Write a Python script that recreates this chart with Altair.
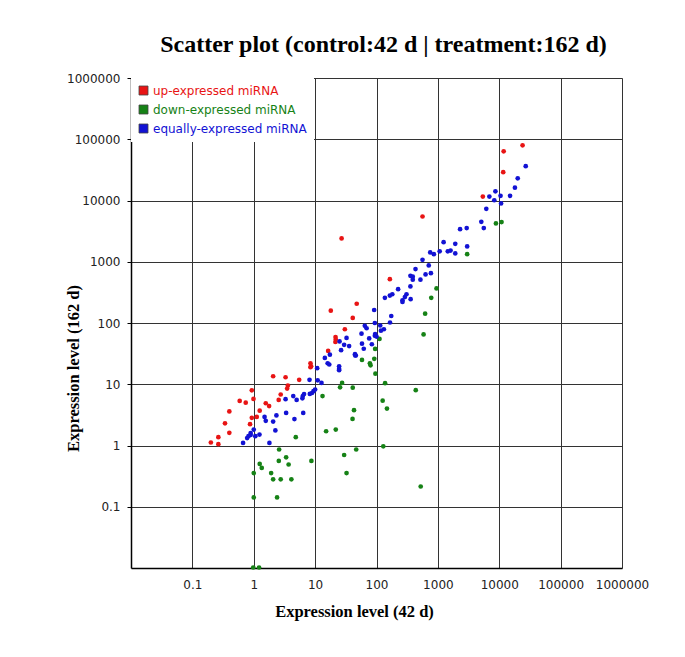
import altair as alt
import pandas as pd

categories = ["up-expressed miRNA", "down-expressed miRNA", "equally-expressed miRNA"]
colors = ["#e81414", "#168216", "#1212d4"]

up_x = [47.6, 18, 41, 30.5, 21.5, 21.7, 21.4, 16.3, 8.4, 8.6, 8.4, 2.07, 3.3, 5.5, 3.6, 3.5,
        2.75, 2.55, 0.93, 0.99, 0.59, 0.74, 1.57, 1.78, 0.40, 1.25, 0.93, 1.12, 0.34, 0.87,
        0.40, 0.265, 0.20, 0.265, 27, 24000, 11800, 11600, 5400, 562, 165]
up_y = [206, 159, 121, 79, 59, 54, 49, 35, 22, 19.6, 19, 13.5, 13, 11.8, 9.5, 8.5,
        6.8, 5.55, 7.96, 5.76, 5.35, 5.0, 4.9, 4.4, 3.6, 3.7, 2.83, 2.93, 2.3, 2.23,
        1.61, 1.37, 1.12, 1.05, 2400, 79500, 63500, 29000, 11600, 5480, 520]

down_x = [112, 95, 58, 78, 80, 92, 96, 27.5, 25.5, 41, 13.2, 43, 40.7, 21.7, 15.1, 4.84,
          2.59, 46.7, 29.7, 2.56, 3.37, 3.7, 8.7, 1.25, 1.35, 1.0, 1.92, 32.5, 2.07, 2.75,
          4.1, 1.0, 2.4, 0.98, 1.22, 8830, 10900, 3000, 950, 780, 620, 585, 138, 436, 126,
          148, 129, 525]
down_y = [55, 37.7, 25, 22, 20.4, 26, 14.9, 10.5, 8.9, 8.8, 6.4, 3.77, 2.72, 1.82, 1.71, 1.37,
          0.86, 0.86, 0.70, 0.56, 0.64, 0.49, 0.56, 0.50, 0.43, 0.354, 0.354, 0.354, 0.28, 0.28,
          0.28, 0.142, 0.142, 0.0102, 0.0102, 4220, 4450, 1330, 367, 258, 142, 65, 10.4, 8.0, 5.4,
          4.0, 0.97, 0.214]

eq_x = [91.6, 94, 64.5, 69, 57, 76, 94, 58, 84, 62, 25, 32.5, 29.7, 35.8, 26.5, 44.6, 46, 45,
        14.4, 17.4, 16, 17, 24.6, 24.6, 24.6, 10.8, 8.1, 11, 12.7, 10, 9.4, 8.9, 8.2, 6.6,
        6.3, 6.2, 5.0, 4.4, 3.3, 2.34, 3.37, 6.4, 4.6, 1.5, 1.57, 2.07, 2.25, 1.0, 0.89,
        0.89, 0.78, 0.82, 1.06, 1.24, 0.67, 1.8,
        27000, 20000, 18000, 8660, 6900, 8300, 10500, 15000, 10700, 6150, 5100, 5600, 2300,
        2950, 1240, 1920, 3000, 1450, 1610, 1920, 1070, 750, 860, 562, 710, 432, 770, 630,
        357, 390, 390, 520, 357, 225, 308, 290, 265, 265, 360, 137, 165, 181, 174, 166, 115,
        132, 118, 95, 100]
eq_y = [163, 100, 90, 82, 67, 56, 62, 46, 45, 38, 50, 57, 44, 42, 36, 31, 29.5, 29.5,
        26.9, 30.4, 22, 21, 19.6, 17.8, 17, 18.3, 11.8, 11.6, 10.5, 8.2, 7.7, 7.2, 6.95, 6.9,
        6.4, 5.9, 5.55, 6.4, 5.7, 3.1, 3.4, 3.4, 2.7, 2.93, 2.53, 2.46, 1.76, 1.82, 1.6,
        1.49, 1.32, 1.42, 1.42, 1.51, 1.1, 1.1,
        36300, 23000, 16200, 14100, 11600, 10100, 11900, 11900, 8950, 7300, 4480, 3550, 3400,
        3550, 2090, 1960, 1780, 1480, 1520, 1370, 1480, 1420, 1330, 1075, 870, 760, 650, 620,
        590, 570, 510, 510, 395, 357, 295, 265, 235, 220, 245, 258, 280, 295, 130, 102, 91,
        79, 75, 66, 60]

tick_values = [0.1, 1, 10, 100, 1000, 10000, 100000, 1000000]

rows = []
for cat, xs, ys in zip(categories, [up_x, down_x, eq_x], [up_y, down_y, eq_y]):
    for xv, yv in zip(xs, ys):
        rows.append({"control": xv, "treatment": yv, "category": cat})
df = pd.DataFrame(rows)

label_color_expr = (
    f"datum.value == '{categories[0]}' ? '{colors[0]}' : "
    f"datum.value == '{categories[1]}' ? '{colors[1]}' : '{colors[2]}'"
)

x_axis = alt.Axis(
    values=tick_values, labelExpr="'' + datum.value", title="Expression level (42 d)",
    titleFont="Liberation Serif", titleFontSize=16.5, titleFontWeight="bold", titleColor="#000",
    titleX=223, titleY=48.5, titleBaseline="alphabetic", titleAlign="center",
    labelFont="DejaVu Sans", labelFontSize=12, labelColor="#222", labelPadding=11,
    ticks=False, tickSize=0, grid=True, gridColor="#333", gridWidth=1,
    domainColor="#000", domainWidth=1.5, labelFlush=False,
)
y_axis = alt.Axis(
    values=tick_values, labelExpr="'' + datum.value", title="Expression level (162 d)",
    titleFont="Liberation Serif", titleFontSize=16.5, titleFontWeight="bold", titleColor="#000",
    titleX=-53, titleY=290, titleAngle=270, titleBaseline="alphabetic", titleAlign="center",
    labelFont="DejaVu Sans", labelFontSize=12, labelColor="#222", labelPadding=7,
    ticks=True, tickSize=4, tickColor="#000", grid=True, gridColor="#333", gridWidth=1,
    domainColor="#000", domainWidth=1.5, labelFlush=False,
)

chart = alt.Chart(df).mark_circle(size=22, opacity=1).encode(
    x=alt.X("control:Q", scale=alt.Scale(type="log", domain=[0.01, 1000000], nice=False), axis=x_axis),
    y=alt.Y("treatment:Q", scale=alt.Scale(type="log", domain=[0.01, 1000000], nice=False), axis=y_axis),
    color=alt.Color(
        "category:N",
        scale=alt.Scale(domain=categories, range=colors),
        legend=alt.Legend(
            title=None, orient="top-left", offset=0, padding=6.5, fillColor="white",
            symbolType="square", symbolSize=81, symbolStrokeColor="#444", symbolStrokeWidth=0.8,
            labelFont="DejaVu Sans", labelFontSize=12, labelColor={"expr": label_color_expr},
            rowPadding=5, labelOffset=3.5, labelLimit=300,
        ),
    ),
).properties(
    width=491, height=490,
    title=alt.TitleParams(
        "Scatter plot (control:42 d | treatment:162 d)", font="Liberation Serif", fontSize=24,
        fontWeight="bold", color="#000", anchor="middle", dx=7, offset=15,
    ),
    autosize=alt.AutoSizeParams(type="none"),
    padding={"left": 123, "top": 70, "right": 50, "bottom": 75},
).configure_view(stroke="#999", strokeWidth=1).configure(background="white")

chart.save("out.html", embed_options={"renderer": "svg", "actions": False})
